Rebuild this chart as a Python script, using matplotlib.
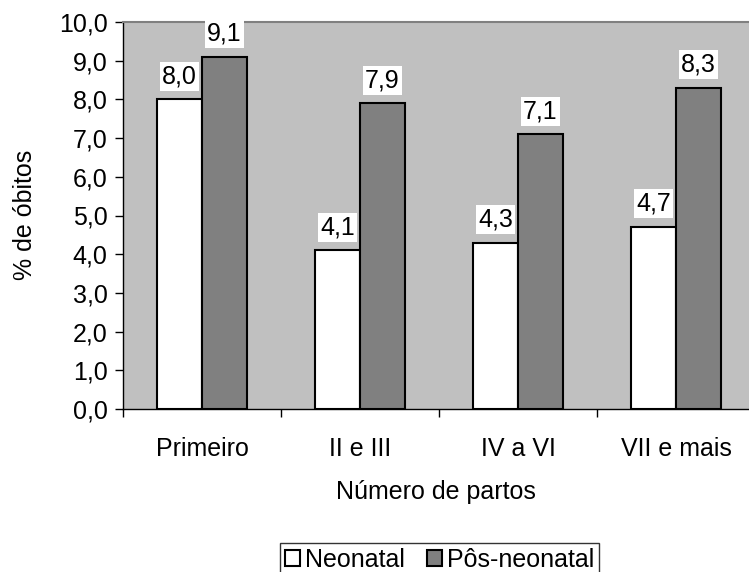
import matplotlib
matplotlib.use("Agg")
import matplotlib.pyplot as plt
import numpy as np

plt.rcParams['font.family'] = ['Liberation Sans', 'DejaVu Sans']

categories = ["Primeiro", "II e III", "IV a VI", "VII e mais"]
neonatal = [8.0, 4.1, 4.3, 4.7]
pos_neonatal = [9.1, 7.9, 7.1, 8.3]
series_names = ["Neonatal", "Pôs-neonatal"]
yticks = [0, 1, 2, 3, 4, 5, 6, 7, 8, 9, 10]

W, H = 749, 572
fig = plt.figure(figsize=(W / 100, H / 100), dpi=100)
ax = fig.add_axes([123 / W, 1 - 409 / H, 632 / W, 387 / H])
ax.set_facecolor("#C0C0C0")

x = np.arange(len(categories))
bw = 0.285
fs = 18
b1 = ax.bar(x - bw / 2, neonatal, bw, color="white", edgecolor="black",
            linewidth=1.5, label=series_names[0], zorder=2)
b2 = ax.bar(x + bw / 2, pos_neonatal, bw, color="#808080", edgecolor="black",
            linewidth=1.5, label=series_names[1], zorder=2)

for bars, vals in ((b1, neonatal), (b2, pos_neonatal)):
    for rect, v in zip(bars, vals):
        ax.annotate(f"{v:.1f}".replace(".", ","),
                    (rect.get_x() + rect.get_width() / 2, v),
                    xytext=(0, 8), textcoords="offset points",
                    ha="center", va="bottom", fontsize=fs,
                    bbox=dict(boxstyle="square,pad=0.1", fc="white", ec="none"),
                    zorder=3)

ax.set_xlim(-0.5, 3.5)
ax.set_ylim(0, 10)
ax.set_yticks(yticks)
ax.set_yticklabels([f"{t:.1f}".replace(".", ",") for t in yticks], fontsize=fs)
ax.tick_params(axis="y", direction="out", length=6, width=1, pad=5)

ax.set_xticks(x)
ax.set_xticklabels(categories, fontsize=fs)
ax.tick_params(axis="x", which="major", length=0, pad=20)
ax.set_xticks(np.arange(-0.5, 3.6, 1.0), minor=True)
ax.tick_params(axis="x", which="minor", direction="out", length=6, width=1)

for side in ("left", "bottom"):
    ax.spines[side].set_color("black")
    ax.spines[side].set_linewidth(1)
ax.spines["top"].set_color("#808080")
ax.spines["top"].set_linewidth(1.5)
ax.spines["right"].set_visible(False)

fig.text(25 / W, 1 - 215 / H, "% de óbitos", rotation=90,
         ha="center", va="center", fontsize=fs)
fig.text(436 / W, 1 - 492 / H, "Número de partos", ha="center", va="center", fontsize=fs)

leg = fig.legend(handles=[b1, b2], loc="center",
                 bbox_to_anchor=(439.5 / W, 1 - 560 / H), ncol=2,
                 fontsize=fs, frameon=True, fancybox=False, edgecolor="black",
                 handlelength=0.6, handleheight=0.6, handletextpad=0.2,
                 columnspacing=0.9, borderpad=0.2, borderaxespad=0)
leg.get_frame().set_linewidth(1)

fig.savefig("out.png", dpi=100)
